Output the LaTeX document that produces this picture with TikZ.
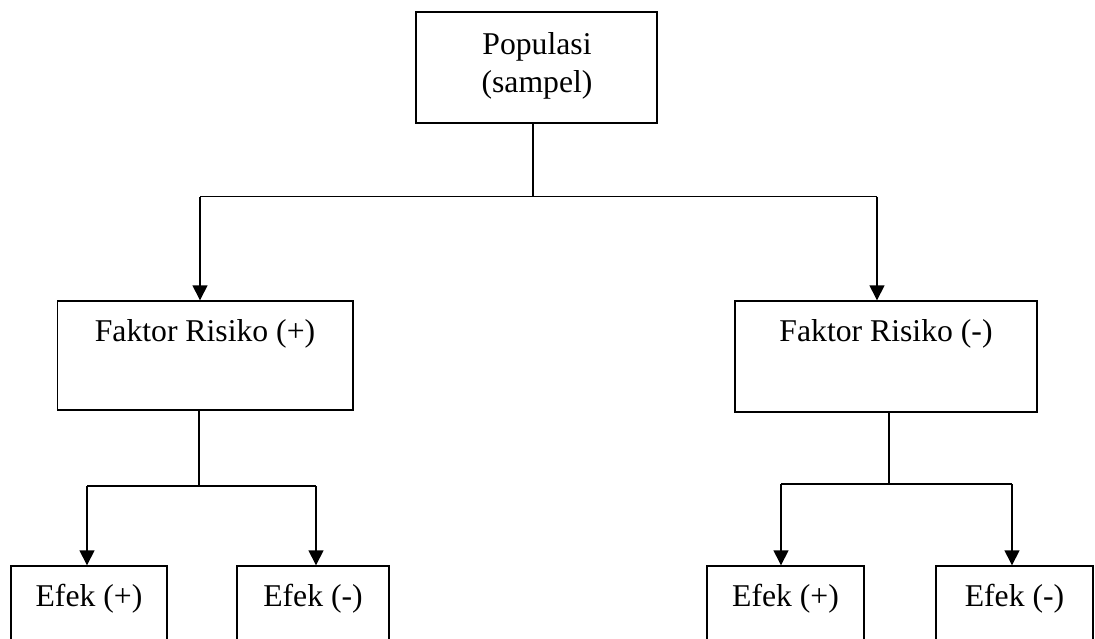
\documentclass[tikz,border=0pt]{standalone}
\usepackage{fontspec}
\setmainfont{Liberation Serif}
\usetikzlibrary{arrows.meta}
\begin{document}
\begin{tikzpicture}[x=1pt,y=-1pt,
  box/.style={draw,line width=1.4pt,inner sep=0pt},
  lbl/.style={inner sep=0pt,anchor=base,font=\fontsize{31.7}{38}\selectfont},
  ln/.style={line width=1.4pt},
  arr/.style={line width=1.4pt,-{Triangle[length=15pt,width=15pt]}}]
\path[use as bounding box,clip] (0,0) rectangle (1095,638);
% boxes
\node[box,minimum width=241pt,minimum height=111pt] (top) at (536.5,67.5) {};
\node[box,minimum width=295.5pt,minimum height=109pt] (lf) at (205.25,355.5) {};
\node[box,minimum width=302pt,minimum height=111pt] (rf) at (886,356.5) {};
\node[box,minimum width=156pt,minimum height=160pt] (e1) at (89,646) {};
\node[box,minimum width=152pt,minimum height=160pt] (e2) at (313,646) {};
\node[box,minimum width=157pt,minimum height=160pt] (e3) at (785.5,646) {};
\node[box,minimum width=157pt,minimum height=160pt] (e4) at (1014.5,646) {};
% texts
\node[lbl] (t1) at (537,54) {Populasi};
\node[lbl] (t2) at (537,92) {(sampel)};
\node[lbl] (t3) at (205,341.5) {Faktor Risiko (+)};
\node[lbl] (t4) at (886,341.5) {Faktor Risiko (-)};
\node[lbl] (t5) at (89,606.5) {Efek (+)};
\node[lbl] (t6) at (313,606.5) {Efek (-)};
\node[lbl] (t7) at (785.5,606.5) {Efek (+)};
\node[lbl] (t8) at (1014.5,606.5) {Efek (-)};
% junctions
\coordinate (j1) at (533,196.5);
\coordinate (j1l) at (200,196.5);
\coordinate (j1r) at (877,196.5);
\coordinate (j2) at (199,486);
\coordinate (j2l) at (87,486);
\coordinate (j2r) at (316,486);
\coordinate (j3) at (889,484);
\coordinate (j3l) at (781,484);
\coordinate (j3r) at (1012,484);
% connectors
\draw[ln] (top.south -| j1) -- (j1);
\draw[ln] (j1l) -- (j1r);
\draw[arr] (j1l) -- (j1l |- lf.north);
\draw[arr] (j1r) -- (j1r |- rf.north);
\draw[ln] (lf.south -| j2) -- (j2);
\draw[ln] (j2l) -- (j2r);
\draw[arr] (j2l) -- (j2l |- e1.north);
\draw[arr] (j2r) -- (j2r |- e2.north);
\draw[ln] (rf.south -| j3) -- (j3);
\draw[ln] (j3l) -- (j3r);
\draw[arr] (j3l) -- (j3l |- e3.north);
\draw[arr] (j3r) -- (j3r |- e4.north);
\end{tikzpicture}
\end{document}
